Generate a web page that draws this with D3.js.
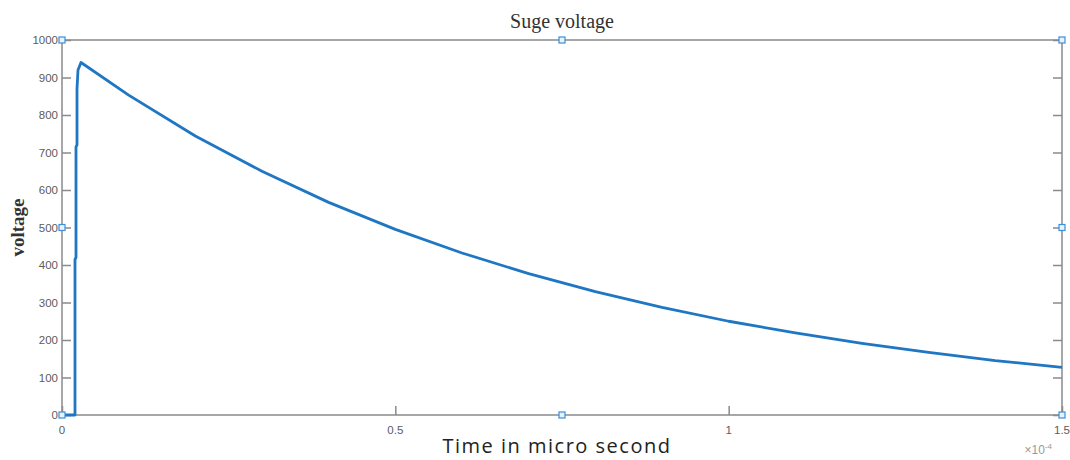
<!DOCTYPE html>
<html>
<head>
<meta charset="utf-8">
<script src="https://cdn.jsdelivr.net/npm/d3@7"></script>
<style>
  html, body { margin: 0; padding: 0; background: #fff; }
  svg { display: block; }
</style>
</head>
<body>
<svg id="chart" width="1070" height="460"></svg>
<script>
// time in units of 1e-4 s, voltage
const timeValues = [0, 0.0195, 0.0195, 0.021, 0.021, 0.0225, 0.0225, 0.024, 0.0285,
  0.1, 0.2, 0.3, 0.4, 0.5, 0.6, 0.7, 0.8, 0.9, 1.0, 1.1, 1.2, 1.3, 1.4, 1.5];
const voltageValues = [0, 0, 415, 420, 715, 720, 870, 920, 940,
  853, 744, 650, 567, 495, 432, 377, 329, 287, 250, 219, 191, 167, 145, 127];

const xTicks = [0, 0.5, 1, 1.5];
const xTickLabels = ['0', '0.5', '1', '1.5'];
const yTicks = [0, 100, 200, 300, 400, 500, 600, 700, 800, 900, 1000];

const width = 1070;
const height = 460;
const margin = { top: 40, right: 8, bottom: 45, left: 62 };

const svg = d3.select('#chart');

const x = d3.scaleLinear()
  .domain([0, 1.5])
  .range([margin.left, width - margin.right]);

const y = d3.scaleLinear()
  .domain([0, 1000])
  .range([height - margin.bottom, margin.top]);

const axisColor = '#8a8a8a';
const labelColor = '#5c5c5c';

// box
svg.append('rect')
  .attr('x', x(0))
  .attr('y', y(1000))
  .attr('width', x(1.5) - x(0))
  .attr('height', y(0) - y(1000))
  .attr('fill', 'none')
  .attr('stroke', axisColor)
  .attr('stroke-width', 1.5);

// left axis, ticks pointing inward
const yAxis = svg.append('g')
  .attr('transform', `translate(${x(0)},0)`)
  .call(d3.axisRight(y).tickValues(yTicks).tickSize(9).tickFormat(''));

yAxis.select('.domain').remove();
yAxis.selectAll('line').attr('stroke', axisColor).attr('stroke-width', 1.5);

svg.append('g')
  .selectAll('text')
  .data(yTicks)
  .join('text')
  .attr('x', x(0) - 4)
  .attr('y', (d) => y(d))
  .attr('dy', '0.35em')
  .attr('text-anchor', 'end')
  .attr('font-family', 'Liberation Sans, Arial, sans-serif')
  .attr('font-size', 11.5)
  .attr('fill', labelColor)
  .text((d) => d);

// right axis, ticks pointing inward
const yAxisRight = svg.append('g')
  .attr('transform', `translate(${x(1.5)},0)`)
  .call(d3.axisLeft(y).tickValues(yTicks).tickSize(9).tickFormat(''));

yAxisRight.select('.domain').remove();
yAxisRight.selectAll('line').attr('stroke', axisColor).attr('stroke-width', 1.5);

// bottom axis
const xAxis = svg.append('g')
  .attr('transform', `translate(0,${y(0)})`)
  .call(d3.axisTop(x).tickValues(xTicks).tickSize(9).tickFormat(''));

xAxis.select('.domain').remove();
xAxis.selectAll('line').attr('stroke', axisColor).attr('stroke-width', 1.5);

svg.append('g')
  .selectAll('text')
  .data(xTicks)
  .join('text')
  .attr('x', (d) => x(d))
  .attr('y', y(0) + 19)
  .attr('text-anchor', 'middle')
  .attr('font-family', 'Liberation Sans, Arial, sans-serif')
  .attr('font-size', 11.5)
  .attr('fill', labelColor)
  .text((d, i) => xTickLabels[i]);

// exponent label
const expLabel = svg.append('text')
  .attr('x', x(1.5) - 10)
  .attr('y', height - 6)
  .attr('text-anchor', 'end')
  .attr('font-family', 'Liberation Sans, Arial, sans-serif')
  .attr('font-size', 12)
  .attr('fill', '#999');

expLabel.append('tspan').text('\u00d710');
expLabel.append('tspan').attr('dy', -5).attr('font-size', 8).text('-4');

// voltage curve
const points = timeValues.map((t, i) => [t, voltageValues[i]]);

const line = d3.line()
  .x((d) => x(d[0]))
  .y((d) => y(d[1]));

svg.append('path')
  .datum(points)
  .attr('d', line)
  .attr('fill', 'none')
  .attr('stroke', '#1f77c4')
  .attr('stroke-width', 2.8)
  .attr('stroke-linejoin', 'round');

// small selection handles
const handles = [
  [0, 1000], [0.75, 1000], [1.5, 1000],
  [0, 500], [1.5, 500],
  [0, 0], [0.75, 0], [1.5, 0],
];

svg.append('g')
  .selectAll('rect')
  .data(handles)
  .join('rect')
  .attr('x', (d) => x(d[0]) - 3)
  .attr('y', (d) => y(d[1]) - 3)
  .attr('width', 6)
  .attr('height', 6)
  .attr('fill', '#e8f2fb')
  .attr('stroke', '#3d8fd6')
  .attr('stroke-width', 1.2);

// title and axis labels
svg.append('text')
  .attr('x', (x(0) + x(1.5)) / 2)
  .attr('y', 28)
  .attr('text-anchor', 'middle')
  .attr('font-family', 'Liberation Serif, Times New Roman, serif')
  .attr('font-size', 20)
  .attr('fill', '#333')
  .text('Suge voltage');

svg.append('text')
  .attr('transform', `translate(24,${(y(0) + y(1000)) / 2}) rotate(-90)`)
  .attr('text-anchor', 'middle')
  .attr('font-family', 'Liberation Serif, Times New Roman, serif')
  .attr('font-size', 19)
  .attr('font-weight', 'bold')
  .attr('fill', '#333')
  .text('voltage');

svg.append('text')
  .attr('x', 557)
  .attr('y', 453)
  .attr('text-anchor', 'middle')
  .attr('font-family', 'Open Sans, Noto Sans, sans-serif')
  .attr('font-size', 20)
  .attr('letter-spacing', 1.5)
  .attr('fill', '#222')
  .text('Time in micro second');
</script>
</body>
</html>
